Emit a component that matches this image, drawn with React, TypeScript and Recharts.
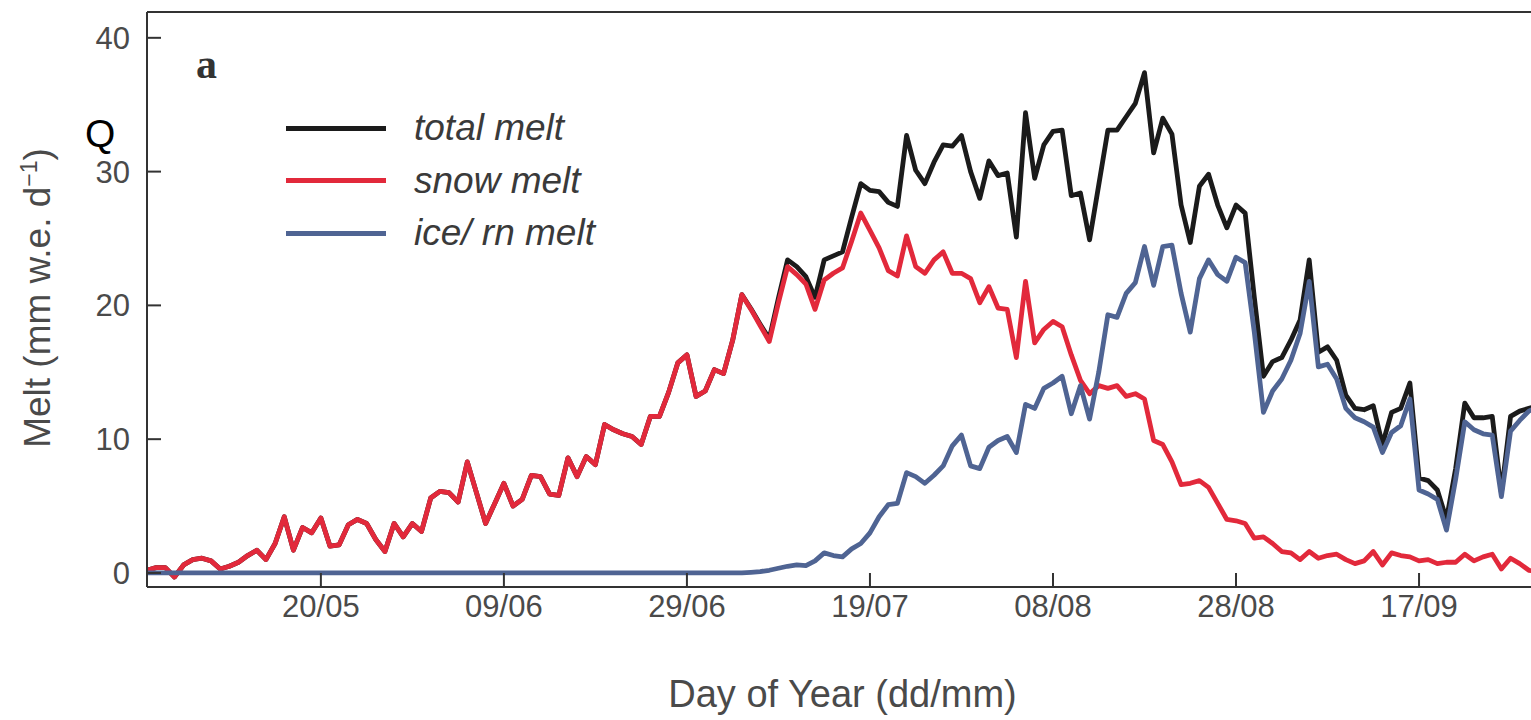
import { LineChart, Line, XAxis, YAxis, Legend } from "recharts";

// daily values from 01/05 (index 0) to 30/09 (index 152), mm w.e. per day
const snowMelt = [
  0.2, 0.4, 0.4, -0.3, 0.6, 1.0, 1.1, 0.9, 0.3, 0.5,
  0.8, 1.3, 1.7, 1.0, 2.2, 4.2, 1.7, 3.4, 3.0, 4.1,
  2.0, 2.1, 3.6, 4.0, 3.7, 2.5, 1.6, 3.7, 2.7, 3.7,
  3.1, 5.6, 6.1, 6.0, 5.3, 8.3, 6.0, 3.7, 5.2, 6.7,
  5.0, 5.5, 7.3, 7.2, 5.9, 5.8, 8.6, 7.2, 8.7, 8.1,
  11.1, 10.7, 10.4, 10.2, 9.6, 11.7, 11.7, 13.5, 15.7, 16.3,
  13.2, 13.6, 15.2, 14.9, 17.4, 20.8, 19.7, 18.5, 17.3, 20.2,
  22.9, 22.3, 21.6, 19.7, 21.9, 22.4, 22.8, 24.8, 26.9, 25.6,
  24.3, 22.6, 22.2, 25.2, 22.9, 22.4, 23.4, 24.0, 22.4, 22.4,
  22.0, 20.2, 21.4, 19.8, 19.7, 16.1, 21.8, 17.2, 18.2, 18.8,
  18.4, 16.3, 14.4, 13.4, 14.0, 13.8, 14.0, 13.2, 13.4, 13.0,
  9.9, 9.6, 8.3, 6.6, 6.7, 6.9, 6.4, 5.2, 4.0, 3.9,
  3.7, 2.6, 2.7, 2.2, 1.6, 1.5, 1.0, 1.6, 1.1, 1.3,
  1.4, 1.0, 0.7, 0.9, 1.6, 0.6, 1.5, 1.3, 1.2, 0.9,
  1.0, 0.7, 0.8, 0.8, 1.4, 0.9, 1.2, 1.4, 0.3, 1.1,
  0.7, 0.2, 0.1,
];

const iceMelt = [
  0, 0, 0, 0, 0, 0, 0, 0, 0, 0,
  0, 0, 0, 0, 0, 0, 0, 0, 0, 0,
  0, 0, 0, 0, 0, 0, 0, 0, 0, 0,
  0, 0, 0, 0, 0, 0, 0, 0, 0, 0,
  0, 0, 0, 0, 0, 0, 0, 0, 0, 0,
  0, 0, 0, 0, 0, 0, 0, 0, 0, 0,
  0, 0, 0, 0, 0, 0, 0.05, 0.1, 0.2, 0.35,
  0.5, 0.6, 0.55, 0.9, 1.5, 1.3, 1.2, 1.8, 2.2, 3.0,
  4.2, 5.1, 5.2, 7.5, 7.2, 6.7, 7.3, 8.0, 9.5, 10.3,
  8.0, 7.8, 9.4, 9.9, 10.2, 9.0, 12.6, 12.3, 13.8, 14.2,
  14.7, 11.9, 14.0, 11.5, 15.0, 19.3, 19.1, 20.9, 21.7, 24.4,
  21.5, 24.4, 24.5, 20.9, 18.0, 22.0, 23.4, 22.3, 21.8, 23.6,
  23.2, 18.0, 12.0, 13.6, 14.5, 15.9, 17.9, 21.8, 15.4, 15.6,
  14.5, 12.3, 11.6, 11.3, 10.9, 9.0, 10.5, 11.0, 13.0, 6.2,
  5.9, 5.5, 3.2, 7.0, 11.3, 10.7, 10.4, 10.3, 5.7, 10.6,
  11.4, 12.1, 12.4,
];

const tickDays = [19, 39, 59, 79, 99, 119, 139];
const tickLabels = ["20/05", "09/06", "29/06", "19/07", "08/08", "28/08", "17/09"];
const yTicks = [0, 10, 20, 30, 40];

const series = [
  { key: "total", name: "total melt", color: "#1b1b1b" },
  { key: "snow", name: "snow melt", color: "#e2293b" },
  { key: "ice", name: "ice/ rn melt", color: "#4f6493" },
];

// total melt is snow + ice/rn melt
const data = snowMelt.map((snow, day) => ({
  day,
  snow,
  ice: iceMelt[day],
  total: Math.round((snow + iceMelt[day]) * 100) / 100,
}));

const FONT = '"Liberation Sans", Arial, sans-serif';
const AXIS = "#333";
const TEXT = "#4a4a4a";

function LegendBox() {
  return (
    <div style={{ fontFamily: FONT }}>
      {series.map((s) => (
        <div key={s.key} style={{ display: "flex", alignItems: "center", height: 52.5 }}>
          <span style={{ display: "inline-block", width: 100, height: 5, background: s.color }} />
          <span style={{ marginLeft: 28, fontSize: 37, fontStyle: "italic", color: "#3a3a3a", whiteSpace: "nowrap" }}>
            {s.name}
          </span>
        </div>
      ))}
    </div>
  );
}

const yLabel = () => (
  <text
    x={50}
    y={298}
    transform="rotate(-90 50 298)"
    textAnchor="middle"
    fill={TEXT}
    fontSize={37}
    fontFamily={FONT}
  >
    Melt (mm w.e. d
    <tspan dy={-13} fontSize={23}>−1</tspan>
    <tspan dy={13}>)</tspan>
  </text>
);

export default function App() {
  return (
    <div style={{ position: "absolute", left: 0, top: 0, width: 1531, height: 720, overflow: "hidden", background: "#fff" }}>
      <LineChart
        width={1545}
        height={720}
        data={data}
        margin={{ top: 11, right: 6, bottom: 132, left: 146 }}
      >
        <XAxis
          dataKey="day"
          type="number"
          domain={[0, 152]}
          ticks={tickDays}
          interval={0}
          tickFormatter={(v) => tickLabels[tickDays.indexOf(v)]}
          height={1}
          tickSize={-14}
          tickMargin={22}
          stroke={AXIS}
          strokeWidth={2}
          tick={{ fill: TEXT, fontSize: 31, fontFamily: FONT }}
          allowDataOverflow
          label={{ value: "Day of Year (dd/mm)", position: "bottom", offset: 92, fill: TEXT, fontSize: 38, fontFamily: FONT }}
        />
        <XAxis
          xAxisId="top"
          orientation="top"
          type="number"
          domain={[0, 152]}
          ticks={tickDays}
          interval={0}
          height={1}
          tickSize={-14}
          tick={false}
          stroke={AXIS}
          strokeWidth={2}
        />
        <YAxis
          type="number"
          domain={[-1.05, 41.93]}
          ticks={yTicks}
          interval={0}
          width={1}
          tickSize={-14}
          tickMargin={31}
          stroke={AXIS}
          strokeWidth={2}
          tick={{ fill: TEXT, fontSize: 31, fontFamily: FONT }}
          allowDataOverflow
          label={yLabel}
        />
        <YAxis
          yAxisId="right"
          orientation="right"
          type="number"
          domain={[-1.05, 41.93]}
          ticks={yTicks}
          interval={0}
          width={1}
          tickSize={-14}
          tick={false}
          stroke={AXIS}
          strokeWidth={2}
        />
        <Legend
          layout="vertical"
          align="center"
          verticalAlign="middle"
          content={() => <LegendBox />}
          wrapperStyle={{ left: 286, top: 102, width: "auto" }}
        />
        {series.map((s) => (
          <Line
            key={s.key}
            type="linear"
            dataKey={s.key}
            name={s.name}
            stroke={s.color}
            strokeWidth={4.8}
            strokeLinejoin="round"
            dot={false}
            activeDot={false}
            isAnimationActive={false}
          />
        ))}
      </LineChart>
      <div style={{ position: "absolute", left: 196, top: 43, fontFamily: '"Liberation Serif", serif', fontWeight: "bold", fontSize: 42, lineHeight: "42px", color: "#333" }}>
        a
      </div>
      <div style={{ position: "absolute", left: 85, top: 114, fontFamily: FONT, fontSize: 39, lineHeight: "39px", color: "#000" }}>
        Q
      </div>
    </div>
  );
}
